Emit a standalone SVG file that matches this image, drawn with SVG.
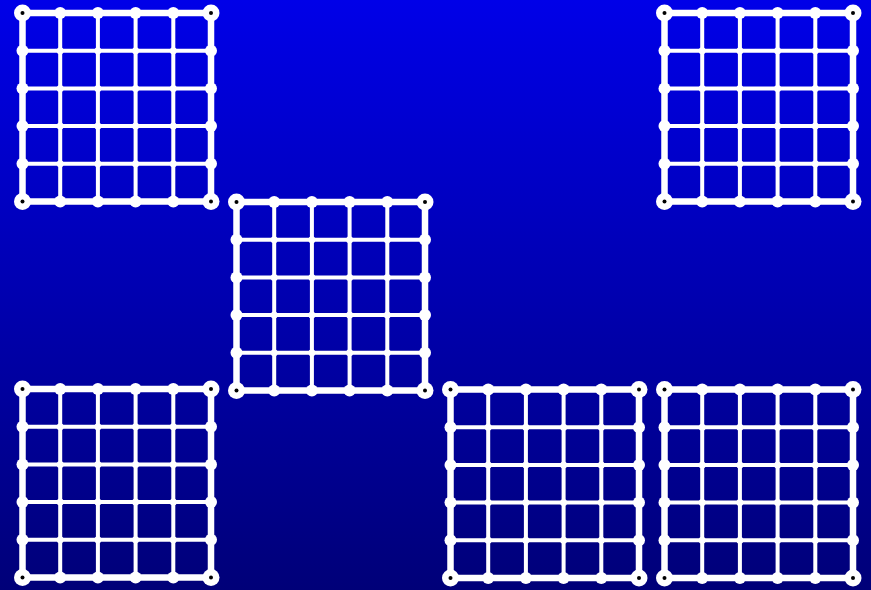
<svg xmlns="http://www.w3.org/2000/svg" xmlns:xlink="http://www.w3.org/1999/xlink" width="871" height="590" viewBox="0 0 871 590">
<defs>
<linearGradient id="bg" x1="0" y1="0" x2="0" y2="1">
<stop offset="0" stop-color="#0000e8"/>
<stop offset="1" stop-color="#000078"/>
</linearGradient>
<style>
.in{stroke:#fff;stroke-width:4;fill:none}
.bd{stroke:#fff;stroke-width:6.5;fill:none}
.jn{fill:#fff}
.en{fill:#fff}
.cn{fill:#fff}
.dot{fill:#000}
</style>
<g id="grid">
<g class="in">
<path d="M37.7 0V188.5M75.4 0V188.5M113.1 0V188.5M150.8 0V188.5M0 37.7H188.5M0 75.4H188.5M0 113.1H188.5M0 150.8H188.5"/>
</g>
<rect class="bd" x="0" y="0" width="188.5" height="188.5"/>
<g class="jn">
<circle cx="37.7" cy="37.7" r="3.5"/><circle cx="75.4" cy="37.7" r="3.5"/><circle cx="113.1" cy="37.7" r="3.5"/><circle cx="150.8" cy="37.7" r="3.5"/>
<circle cx="37.7" cy="75.4" r="3.5"/><circle cx="75.4" cy="75.4" r="3.5"/><circle cx="113.1" cy="75.4" r="3.5"/><circle cx="150.8" cy="75.4" r="3.5"/>
<circle cx="37.7" cy="113.1" r="3.5"/><circle cx="75.4" cy="113.1" r="3.5"/><circle cx="113.1" cy="113.1" r="3.5"/><circle cx="150.8" cy="113.1" r="3.5"/>
<circle cx="37.7" cy="150.8" r="3.5"/><circle cx="75.4" cy="150.8" r="3.5"/><circle cx="113.1" cy="150.8" r="3.5"/><circle cx="150.8" cy="150.8" r="3.5"/>
</g>
<g class="en">
<circle cx="37.7" cy="0" r="6"/><circle cx="75.4" cy="0" r="6"/><circle cx="113.1" cy="0" r="6"/><circle cx="150.8" cy="0" r="6"/>
<circle cx="37.7" cy="188.5" r="6"/><circle cx="75.4" cy="188.5" r="6"/><circle cx="113.1" cy="188.5" r="6"/><circle cx="150.8" cy="188.5" r="6"/>
<circle cx="0" cy="37.7" r="6"/><circle cx="0" cy="75.4" r="6"/><circle cx="0" cy="113.1" r="6"/><circle cx="0" cy="150.8" r="6"/>
<circle cx="188.5" cy="37.7" r="6"/><circle cx="188.5" cy="75.4" r="6"/><circle cx="188.5" cy="113.1" r="6"/><circle cx="188.5" cy="150.8" r="6"/>
</g>
<g class="cn">
<circle cx="0" cy="0" r="8.5"/><circle cx="188.5" cy="0" r="8.5"/><circle cx="0" cy="188.5" r="8.5"/><circle cx="188.5" cy="188.5" r="8.5"/>
</g>
<g class="dot">
<circle cx="0" cy="0" r="2"/><circle cx="188.5" cy="0" r="2"/><circle cx="0" cy="188.5" r="2"/><circle cx="188.5" cy="188.5" r="2"/>
</g>
</g>
</defs>
<rect width="871" height="590" fill="url(#bg)"/>
<g id="connectors"/>
<g id="grid-top-left"><use xlink:href="#grid" href="#grid" x="22.5" y="13"/></g>
<g id="grid-center"><use xlink:href="#grid" href="#grid" x="236.5" y="202"/></g>
<g id="grid-bottom-left"><use xlink:href="#grid" href="#grid" x="22.5" y="389"/></g>
<g id="grid-bottom-middle"><use xlink:href="#grid" href="#grid" x="450.5" y="389.5"/></g>
<g id="grid-bottom-right"><use xlink:href="#grid" href="#grid" x="664.5" y="389.5"/></g>
<g id="grid-top-right"><use xlink:href="#grid" href="#grid" x="664.5" y="13"/></g>
</svg>
